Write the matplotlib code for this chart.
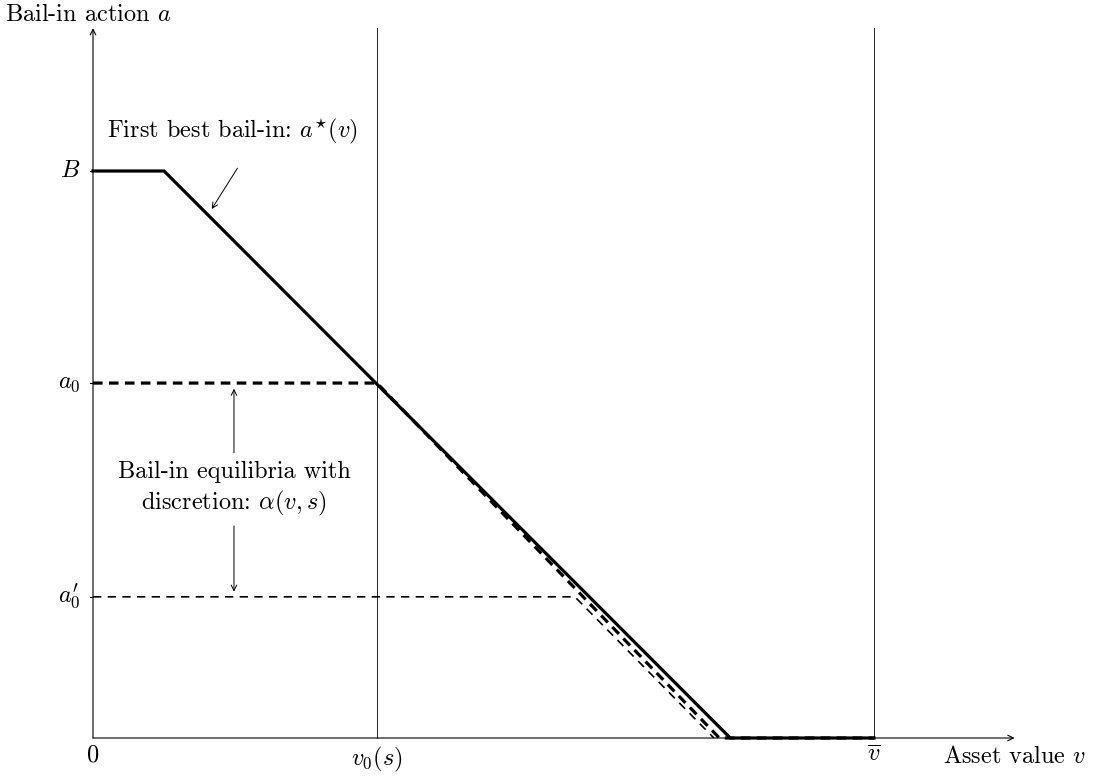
import matplotlib
matplotlib.use("Agg")
from matplotlib import pyplot as plt

plt.rcParams['font.family'] = 'serif'
plt.rcParams['font.serif'] = ['cmr10']
plt.rcParams['mathtext.fontset'] = 'cm'
plt.rcParams['axes.unicode_minus'] = False

# ============ data ====================
V_BAR = 10.0
V0 = 3.636
B = 1.0
A0 = 0.626
A0_PRIME = 0.249

# first best bail-in a*(v)
first_best_v = [0, 0.91, 8.16, V_BAR]
first_best_a = [B, B, 0, 0]

# equilibrium with high starting point a0
eq_high_v = [0, V0, 8.02, V_BAR]
eq_high_a = [A0, A0, 0, 0]

# equilibrium with low starting point a0'
eq_low_v = [0, 6.17, 7.95]
eq_low_a = [A0_PRIME, A0_PRIME, 0]

y_ticks = [B, A0, A0_PRIME]
y_labels = ['$B$', '$a_0$', "$a_0'$"]
x_ticks = [0, V0, V_BAR]
x_labels = ['$0$', '$v_0(s)$', r'$\overline{v}$']
# ======================================

W, H = 1094, 778
PX_X = 78.1   # pixels per unit in v
PX_Y = 567.0  # pixels per unit in a
X0, Y0 = 93, 738  # origin in pixels (from top-left)

fig = plt.figure(figsize=(W / 100, H / 100), dpi=100)
ax = fig.add_axes([0, 0, 1, 1])
ax.set_xlim(-X0 / PX_X, (W - X0) / PX_X)
ax.set_ylim(-(H - Y0) / PX_Y, Y0 / PX_Y)
ax.axis('off')

fs = 17.5
x_end = 11.8
y_end = 1.252

# axes with arrows
ax.annotate('', xy=(x_end, 0), xytext=(0, 0),
            arrowprops=dict(arrowstyle='->', lw=0.8, color='black', shrinkA=0, shrinkB=0))
ax.annotate('', xy=(0, y_end), xytext=(0, 0),
            arrowprops=dict(arrowstyle='->', lw=0.8, color='black', shrinkA=0, shrinkB=0))
ax.text(x_end, -0.014, 'Asset value $v$', ha='center', va='top', fontsize=fs)
ax.text(-0.06, 1.276, 'Bail-in action $a$', ha='center', va='center', fontsize=fs)

# vertical reference lines
ax.plot([V0, V0], [0, y_end], color='black', lw=0.6)
ax.plot([V_BAR, V_BAR], [0, y_end], color='black', lw=0.6)

# ticks and labels
for y, lab in zip(y_ticks, y_labels):
    ax.plot([-0.04, 0], [y, y], color='black', lw=0.8)
    ax.text(-0.16, y, lab, ha='right', va='center', fontsize=fs)
for x, lab in zip(x_ticks, x_labels):
    ax.text(x, -0.012, lab, ha='center', va='top', fontsize=fs)

# curves
ax.plot(eq_low_v, eq_low_a, color='black', lw=1.2, linestyle=(0, (5, 3.8)))
ax.plot(eq_high_v, eq_high_a, color='black', lw=2.3, linestyle=(0, (3, 2)))
ax.plot(first_best_v, first_best_a, color='black', lw=2.3, solid_joinstyle='miter')

# annotations
ax.text(1.78, 1.07, r'First best bail-in: $a^{\star}(v)$', ha='center', va='center', fontsize=fs)
ax.annotate('', xy=(1.52, 0.933), xytext=(1.85, 1.005),
            arrowprops=dict(arrowstyle='->', lw=0.7, color='black', shrinkA=0, shrinkB=0))

ax.text(1.805, 0.438, 'Bail-in equilibria with\ndiscretion: ' + r'$\alpha(v,s)$',
        ha='center', va='center', fontsize=fs, linespacing=1.3)
ax.annotate('', xy=(1.805, 0.616), xytext=(1.805, 0.503),
            arrowprops=dict(arrowstyle='->', lw=0.7, color='black', shrinkA=0, shrinkB=0))
ax.annotate('', xy=(1.805, 0.258), xytext=(1.805, 0.374),
            arrowprops=dict(arrowstyle='->', lw=0.7, color='black', shrinkA=0, shrinkB=0))

fig.savefig('out.png', dpi=100)
